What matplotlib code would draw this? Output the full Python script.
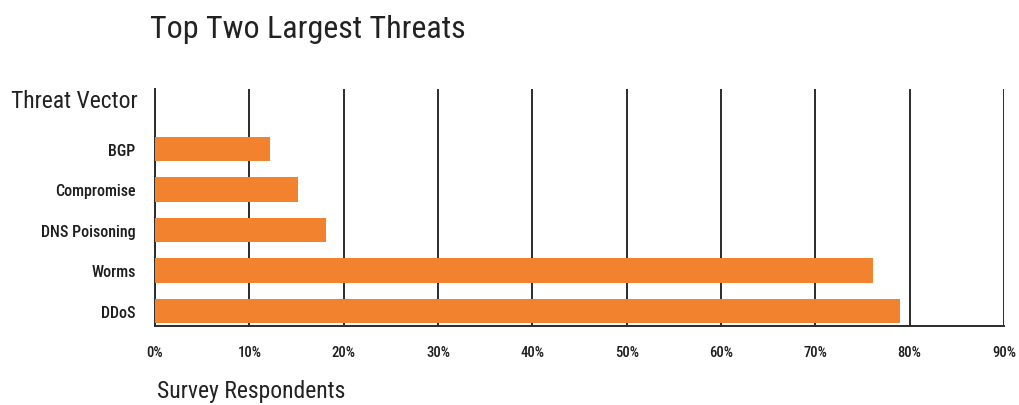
import matplotlib
matplotlib.use("Agg")
import matplotlib.pyplot as plt
from matplotlib import font_manager

categories = ["BGP", "Compromise", "DNS Poisoning", "Worms", "DDoS"]
values = [12.2, 15.2, 18.1, 76.1, 79.0]
xticks = [0, 10, 20, 30, 40, 50, 60, 70, 80, 90]
xticklabels = [f"{t}%" for t in xticks]

names = {f.name for f in font_manager.fontManager.ttflist}
fam = [n for n in ["Liberation Sans Narrow", "DejaVu Sans Condensed", "Roboto Condensed", "Open Sans Condensed"] if n in names]
fam = fam + ["DejaVu Sans"]
plt.rcParams['font.family'] = fam

fig = plt.figure(figsize=(10.2, 4.06), dpi=100)
ax = fig.add_axes([155/1020, 1-327/406, (1004-155)/1020, (327-90)/406])

ypos = list(range(len(categories)))[::-1]
ax.barh(ypos, values, height=0.6, color="#F2822E", zorder=3)
ax.set_xlim(0, 90)
ax.set_ylim(-0.37, 5.48)
ax.set_xticks(xticks)
ax.set_xticklabels(xticklabels, fontsize=10.5, color="#1e1e1e", fontweight="medium")
ax.set_yticks(ypos)
ax.set_yticklabels(categories, fontsize=11.5, color="#1e1e1e", fontweight="medium")
ax.tick_params(axis='x', length=0, pad=14)
ax.tick_params(axis='y', length=0, pad=14)
ax.xaxis.grid(True, color="#2b2b2b", linewidth=1.4, zorder=1)
for s in ["top", "right"]:
    ax.spines[s].set_visible(False)
for s in ["left", "bottom"]:
    ax.spines[s].set_color("#2b2b2b")
    ax.spines[s].set_linewidth(1.4)

fig.text(150/1020, 1-30/406, "Top Two Largest Threats", fontsize=23, color="#222222", ha="left", va="center")
fig.text(138/1020, 1-101/406, "Threat Vector", fontsize=17, color="#222222", ha="right", va="center")
fig.text(157/1020, 1-392/406, "Survey Respondents", fontsize=17, color="#222222", ha="left", va="center")

fig.savefig("out.png", dpi=100)
